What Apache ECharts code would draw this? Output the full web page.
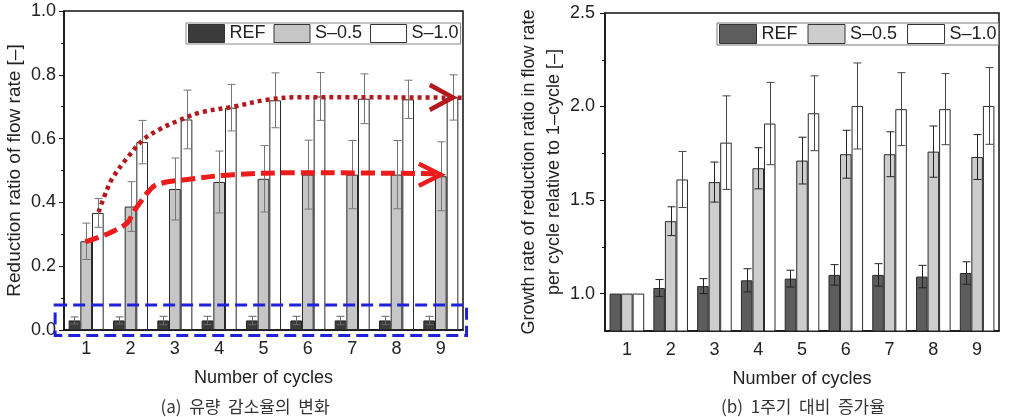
<!DOCTYPE html>
<html>
<head>
<meta charset="utf-8">
<script src="https://cdn.jsdelivr.net/npm/echarts@6/dist/echarts.min.js"></script>
<style>html,body{margin:0;padding:0;background:#fff}#c{width:1029px;height:417px}</style>
</head>
<body>
<div id="c"></div>
<script>
const cycles = ['1','2','3','4','5','6','7','8','9'];
const seriesNames = ['REF','S–0.5','S–1.0'];

// (a) reduction ratio of flow rate
const refA    = [0.030,0.030,0.030,0.030,0.030,0.030,0.030,0.030,0.030];
const refAErr = [0.011,0.011,0.013,0.013,0.013,0.013,0.013,0.013,0.013];
const s05A    = [0.278,0.387,0.442,0.464,0.474,0.487,0.487,0.487,0.482];
const s05AErr = [0.057,0.078,0.097,0.097,0.104,0.108,0.107,0.107,0.108];
const s10A    = [0.367,0.589,0.660,0.697,0.720,0.732,0.725,0.723,0.729];
const s10AErr = [0.045,0.068,0.092,0.073,0.086,0.075,0.078,0.060,0.071];

// (b) growth rate relative to 1-cycle
const refB    = [1.000,1.030,1.040,1.071,1.080,1.100,1.100,1.091,1.110];
const refBErr = [0,0.045,0.040,0.062,0.045,0.055,0.060,0.060,0.060];
const s05B    = [1.000,1.387,1.596,1.670,1.711,1.745,1.745,1.759,1.730];
const s05BErr = [0,0.077,0.107,0.110,0.125,0.128,0.120,0.137,0.120];
const s10B    = [1.000,1.610,1.807,1.909,1.964,2.003,1.986,1.986,2.003];
const s10BErr = [0,0.150,0.250,0.220,0.200,0.230,0.195,0.190,0.205];

// hand-drawn trend annotations in (a), x in cycle units
const dottedX = [1.28,1.47,1.61,1.93,2.29,2.67,3.06,3.58,4.32,5.09,5.84,9.50];
const dottedY = [0.370,0.440,0.480,0.540,0.597,0.630,0.655,0.682,0.700,0.722,0.730,0.728];
const dashedX = [0.98,1.54,1.93,2.06,2.22,2.38,2.60,3.28,4.32,5.84,9.00];
const dashedY = [0.276,0.305,0.336,0.368,0.400,0.430,0.456,0.472,0.487,0.493,0.490];
const dottedTip = [9.27,0.729];
const dashedTip = [9.00,0.487];
// highlight box around REF bars in (a): [xLeft, xRight, yBottom, yTop]
const boxA = [0.30,9.58,-0.017,0.078];

const yTicksA = [0,0.2,0.4,0.6,0.8,1.0];
const yTicksB = [1.0,1.5,2.0,2.5];
const yMinorB = [1.25,1.75,2.25];
const captions = ['(a)  유량  감소율의  변화', '(b)  1주기  대비  증가율'];

const FONT = 'Liberation Sans, Arial, sans-serif';
const GAP = 0.21;
const colA = ['#3b3b3b','#c6c6c6','#ffffff'];
const colB = ['#5d5d5d','#cdcdcd','#ffffff'];

function bar(name, vals, color, xi, yi){
  return {name:name, type:'bar', xAxisIndex:xi, yAxisIndex:yi, data:vals,
    barCategoryGap:(GAP*100)+'%', barGap:'0%', z:2,
    itemStyle:{color:color, borderColor:'#2a2a2a', borderWidth:1}};
}
function err(vals, errs, pos, xi, yi, color){
  return {type:'custom', xAxisIndex:xi, yAxisIndex:yi, z:5, silent:true,
    data: vals.map((v,i)=>[i, v-errs[i], v+errs[i], errs[i]]),
    encode:{x:0, y:[1,2]},
    renderItem:function(params, api){
      if (api.value(3) <= 0) return null;
      const idx = api.value(0);
      const lo = api.coord([idx, api.value(1)]);
      const hi = api.coord([idx, api.value(2)]);
      const band = api.size([1,0])[0];
      const bw = band*(1-GAP)/3;
      const x = Math.round(lo[0] + (pos-1)*bw) + 0.5;
      const cap = 4;
      const st = {stroke:color, lineWidth:1};
      return {type:'group', children:[
        {type:'line', shape:{x1:x,y1:lo[1],x2:x,y2:hi[1]}, style:st},
        {type:'line', shape:{x1:x-cap,y1:hi[1],x2:x+cap,y2:hi[1]}, style:st},
        {type:'line', shape:{x1:x-cap,y1:lo[1],x2:x+cap,y2:lo[1]}, style:st}
      ]};
    }};
}
function pairs(xs, ys){ return xs.map((x,i)=>[x, ys[i]]); }

const axisLbl = {color:'#222', fontSize:18, fontFamily:FONT};
const axisName = {color:'#222', fontSize:18, fontFamily:FONT};

const chart = echarts.init(document.getElementById('c'), null, {renderer:'canvas'});
const option = {
  animation:false,
  backgroundColor:'#fff',
  grid:[
    {left:64, top:11, width:399, height:319, show:true, borderColor:'#111', borderWidth:1.5, backgroundColor:'transparent'},
    {left:605, top:13, width:394, height:318, show:true, borderColor:'#111', borderWidth:1.5, backgroundColor:'transparent'}
  ],
  legend:[
    {left:186, top:23, padding:[1,2,1,2], itemWidth:36, itemHeight:18, itemGap:8,
      borderColor:'#888', borderWidth:1, backgroundColor:'#fff',
      textStyle:{color:'#222', fontSize:18, fontFamily:FONT},
      data:seriesNames.map((n,i)=>({name:n, icon:'rect', itemStyle:{color:colA[i], borderColor:'#333', borderWidth:1}}))},
    {left:717, top:23, padding:[1,2,1,2], itemWidth:37, itemHeight:19, itemGap:10,
      borderColor:'#777', borderWidth:1, backgroundColor:'#fff',
      textStyle:{color:'#222', fontSize:18, fontFamily:FONT},
      data:seriesNames.map((n,i)=>({name:n, icon:'rect', itemStyle:{color:colB[i], borderColor:'#333', borderWidth:1}}))}
  ],
  xAxis:[
    {type:'category', gridIndex:0, data:cycles,
      name:'Number of cycles', nameLocation:'middle', nameGap:39, nameTextStyle:axisName,
      axisLine:{lineStyle:{color:'#111', width:1.5}},
      axisTick:{alignWithLabel:true, length:5, lineStyle:{color:'#111', width:1.5}},
      axisLabel:Object.assign({margin:10}, axisLbl)},
    {type:'value', gridIndex:0, min:0.5, max:9.5, show:false},
    {type:'category', gridIndex:1, data:cycles,
      name:'Number of cycles', nameLocation:'middle', nameGap:39, nameTextStyle:axisName,
      axisLine:{lineStyle:{color:'#111', width:1.5}},
      axisTick:{alignWithLabel:true, length:6, lineStyle:{color:'#111', width:1.5}},
      axisLabel:Object.assign({margin:10}, axisLbl)}
  ],
  yAxis:[
    {type:'value', gridIndex:0, min:0, max:1, interval:0.2,
      name:'Reduction ratio of flow rate [–]', nameLocation:'middle', nameGap:40,
      nameTextStyle:Object.assign({}, axisName, {fontSize:19}),
      axisLine:{show:true, lineStyle:{color:'#111', width:1.5}},
      axisTick:{show:true, length:5, lineStyle:{color:'#111', width:1}},
      minorTick:{show:true, splitNumber:2, length:3, lineStyle:{color:'#111', width:1}},
      splitLine:{show:false},
      axisLabel:Object.assign({margin:8, formatter:v=>v.toFixed(1), customValues:yTicksA}, axisLbl)},
    {type:'value', gridIndex:1, min:0.8, max:2.5,
      name:'Growth rate of reduction ratio in flow rate\nper cycle relative to 1–cycle [–]',
      nameLocation:'middle', nameGap:38, nameTextStyle:Object.assign({lineHeight:25}, axisName),
      axisLine:{show:true, lineStyle:{color:'#111', width:1.5}},
      axisTick:{show:true, length:5, customValues:yTicksB, lineStyle:{color:'#111', width:1}},
      splitLine:{show:false},
      axisLabel:Object.assign({margin:10, formatter:v=>v.toFixed(1), customValues:yTicksB}, axisLbl)},
    {type:'value', gridIndex:1, min:0.8, max:2.5, position:'left',
      axisLine:{show:false}, axisLabel:{show:false}, splitLine:{show:false},
      axisTick:{show:true, length:3, customValues:yMinorB, lineStyle:{color:'#111', width:1}}}
  ],
  series:[
    bar(seriesNames[0], refA, colA[0], 0, 0),
    bar(seriesNames[1], s05A, colA[1], 0, 0),
    bar(seriesNames[2], s10A, colA[2], 0, 0),
    err(refA, refAErr, 0, 0, 0, '#666'),
    err(s05A, s05AErr, 1, 0, 0, '#777'),
    err(s10A, s10AErr, 2, 0, 0, '#777'),
    {type:'line', xAxisIndex:1, yAxisIndex:0, data:pairs(dottedX, dottedY), smooth:0.35,
      symbol:'none', z:10, silent:true, clip:false,
      lineStyle:{color:'#b3181c', width:4.5, type:[4,4], cap:'butt'}},
    {type:'line', xAxisIndex:1, yAxisIndex:0, data:pairs(dashedX, dashedY), smooth:0.35,
      symbol:'none', z:10, silent:true, clip:false,
      lineStyle:{color:'#ec1c1c', width:5, type:[14,6], cap:'butt'}},
    {type:'scatter', xAxisIndex:1, yAxisIndex:0, data:[dottedTip], z:11, silent:true, clip:false,
      symbol:'path://M0,0 L10,5 L0,10', symbolSize:[23,25], symbolOffset:[-11.5,0], symbolKeepAspect:false,
      itemStyle:{color:'rgba(0,0,0,0)', borderColor:'#b3181c', borderWidth:4.5, opacity:1}},
    {type:'scatter', xAxisIndex:1, yAxisIndex:0, data:[dashedTip], z:11, silent:true, clip:false,
      symbol:'path://M0,0 L10,5 L0,10', symbolSize:[22,22], symbolOffset:[-11,0], symbolKeepAspect:false,
      itemStyle:{color:'rgba(0,0,0,0)', borderColor:'#ec1c1c', borderWidth:4.5, opacity:1}},
    bar(seriesNames[0], refB, colB[0], 2, 1),
    bar(seriesNames[1], s05B, colB[1], 2, 1),
    bar(seriesNames[2], s10B, colB[2], 2, 1),
    err(refB, refBErr, 0, 2, 1, '#222'),
    err(s05B, s05BErr, 1, 2, 1, '#222'),
    err(s10B, s10BErr, 2, 2, 1, '#444')
  ]
};
chart.setOption(option);

const p1 = chart.convertToPixel({xAxisIndex:1, yAxisIndex:0}, [boxA[0], boxA[3]]);
const p2 = chart.convertToPixel({xAxisIndex:1, yAxisIndex:0}, [boxA[1], boxA[2]]);
const capFont = '17px "Noto Sans CJK KR", "Liberation Sans", sans-serif';
chart.setOption({graphic:[
  {type:'rect', z:20, silent:true,
    shape:{x:p1[0], y:p1[1], width:p2[0]-p1[0], height:p2[1]-p1[1]},
    style:{fill:'none', stroke:'#1f22d8', lineWidth:3, lineDash:[12,6]}},
  {type:'text', x:245, y:407, silent:true,
    style:{text:captions[0], fill:'#333', font:capFont, textAlign:'center', textVerticalAlign:'middle'}},
  {type:'text', x:803, y:407, silent:true,
    style:{text:captions[1], fill:'#333', font:capFont, textAlign:'center', textVerticalAlign:'middle'}}
]});
</script>
</body>
</html>
